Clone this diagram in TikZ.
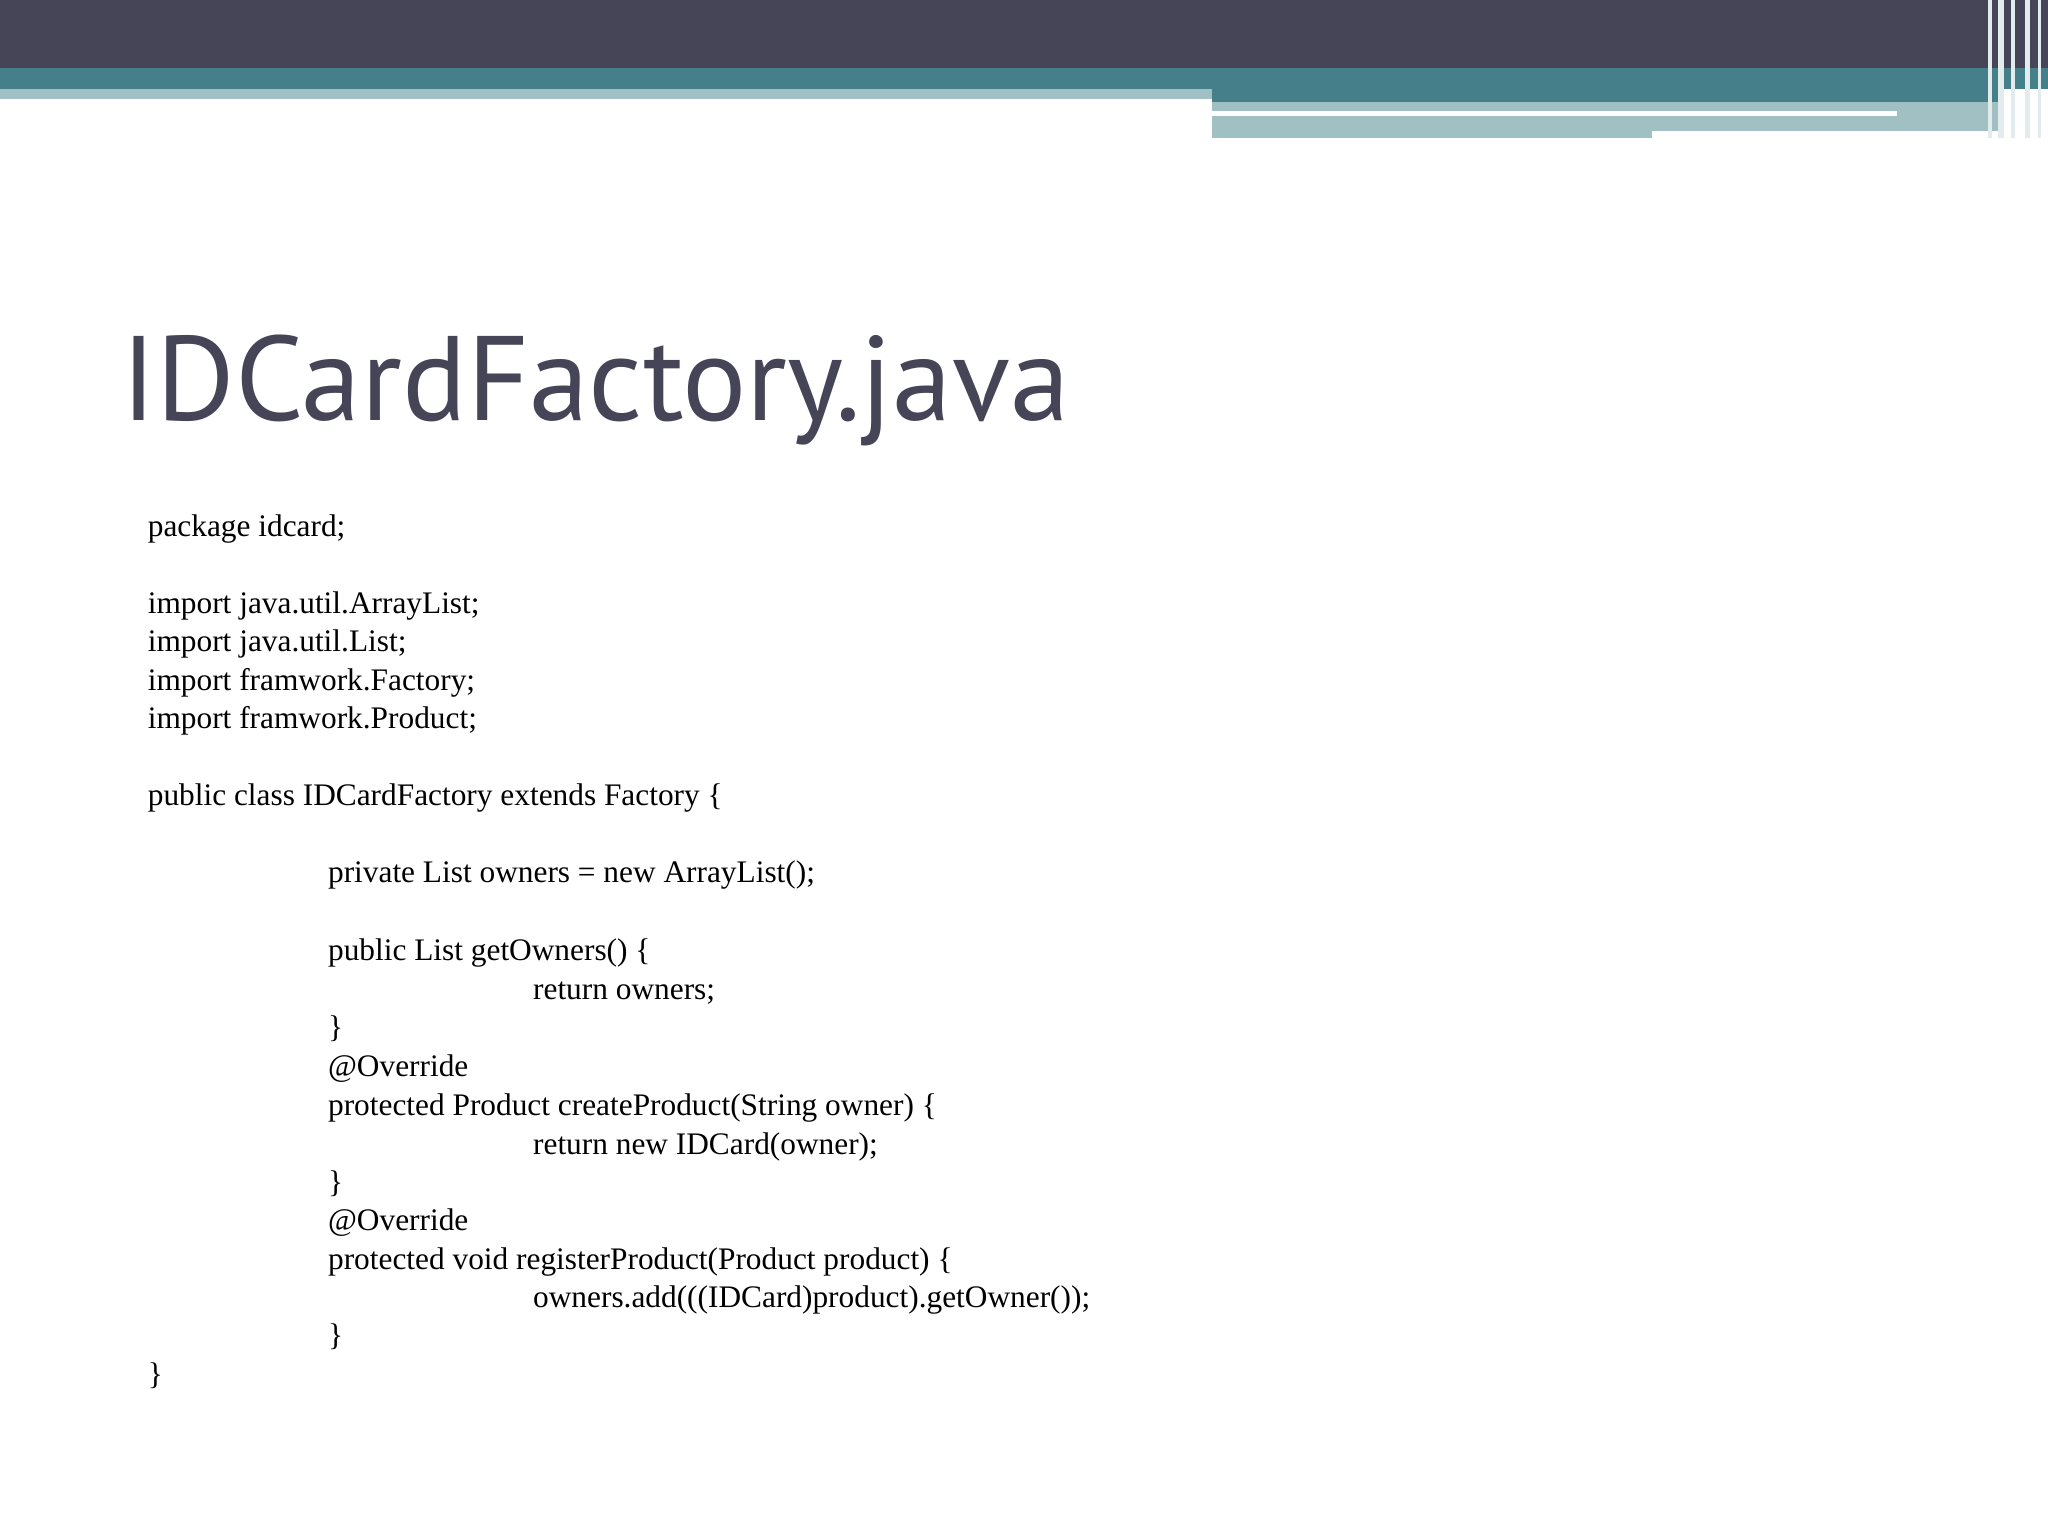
\documentclass[tikz,border=0pt]{standalone}
\usepackage{fontspec}
\setmainfont{Liberation Serif}
\newfontfamily\titlefont{PT Sans}
\definecolor{dark}{HTML}{464558}
\definecolor{teal}{HTML}{45808A}
\definecolor{light}{HTML}{A0C0C4}
\tikzset{code/.style={anchor=base west,inner sep=0pt,font=\fontsize{24}{24}\selectfont}}
\begin{document}
\begin{tikzpicture}[x=1pt,y=-1pt]
\useasboundingbox (0,0) rectangle (1568,1176);
\fill[white] (0,0) rectangle (1568,1176);
\fill[dark] (0,0) rectangle (1568,52);
\fill[teal] (0,52) rectangle (1568,68);
\fill[light] (0,68) rectangle (928,76);
\fill[teal] (928,68) rectangle (1530,78);
\fill[light] (928,78) rectangle (1530,106);
\fill[white] (928,85) rectangle (1452,89);
\fill[white] (1265,100) rectangle (1530,106);
\foreach \x/\w in {1522/3,1530/4,1540/3,1550/4,1560/3}{\fill[white!70!light] (\x,0) rectangle (\x+\w,106);}
\node[anchor=base west,inner sep=0pt,text=dark,font=\titlefont\fontsize{92}{92}\selectfont] (title) at (93,322) {IDCardFactory.java};
\node[code] (l1) at (113,411) {package idcard;};
\node[code] (l2) at (113,470) {import java.util.ArrayList;};
\node[code] (l3) at (113,499) {import java.util.List;};
\node[code] (l4) at (113,529) {import framwork.Factory;};
\node[code] (l5) at (113,558) {import framwork.Product;};
\node[code] (l6) at (113,617) {public class IDCardFactory extends Factory \{};
\node[code] (l7) at (251,676) {private List owners = new ArrayList();};
\node[code] (l8) at (251,735) {public List getOwners() \{};
\node[code] (l9) at (408,765) {return owners;};
\node[code] (l10) at (251,794) {\}};
\node[code] (l11) at (251,824) {@Override};
\node[code] (l12) at (251,854) {protected Product createProduct(String owner) \{};
\node[code] (l13) at (408,884) {return new IDCard(owner);};
\node[code] (l14) at (251,913) {\}};
\node[code] (l15) at (251,942) {@Override};
\node[code] (l16) at (251,972) {protected void registerProduct(Product product) \{};
\node[code] (l17) at (408,1001) {owners.add(((IDCard)product).getOwner());};
\node[code] (l18) at (251,1030) {\}};
\node[code] (l19) at (113,1060) {\}};
\end{tikzpicture}
\end{document}
